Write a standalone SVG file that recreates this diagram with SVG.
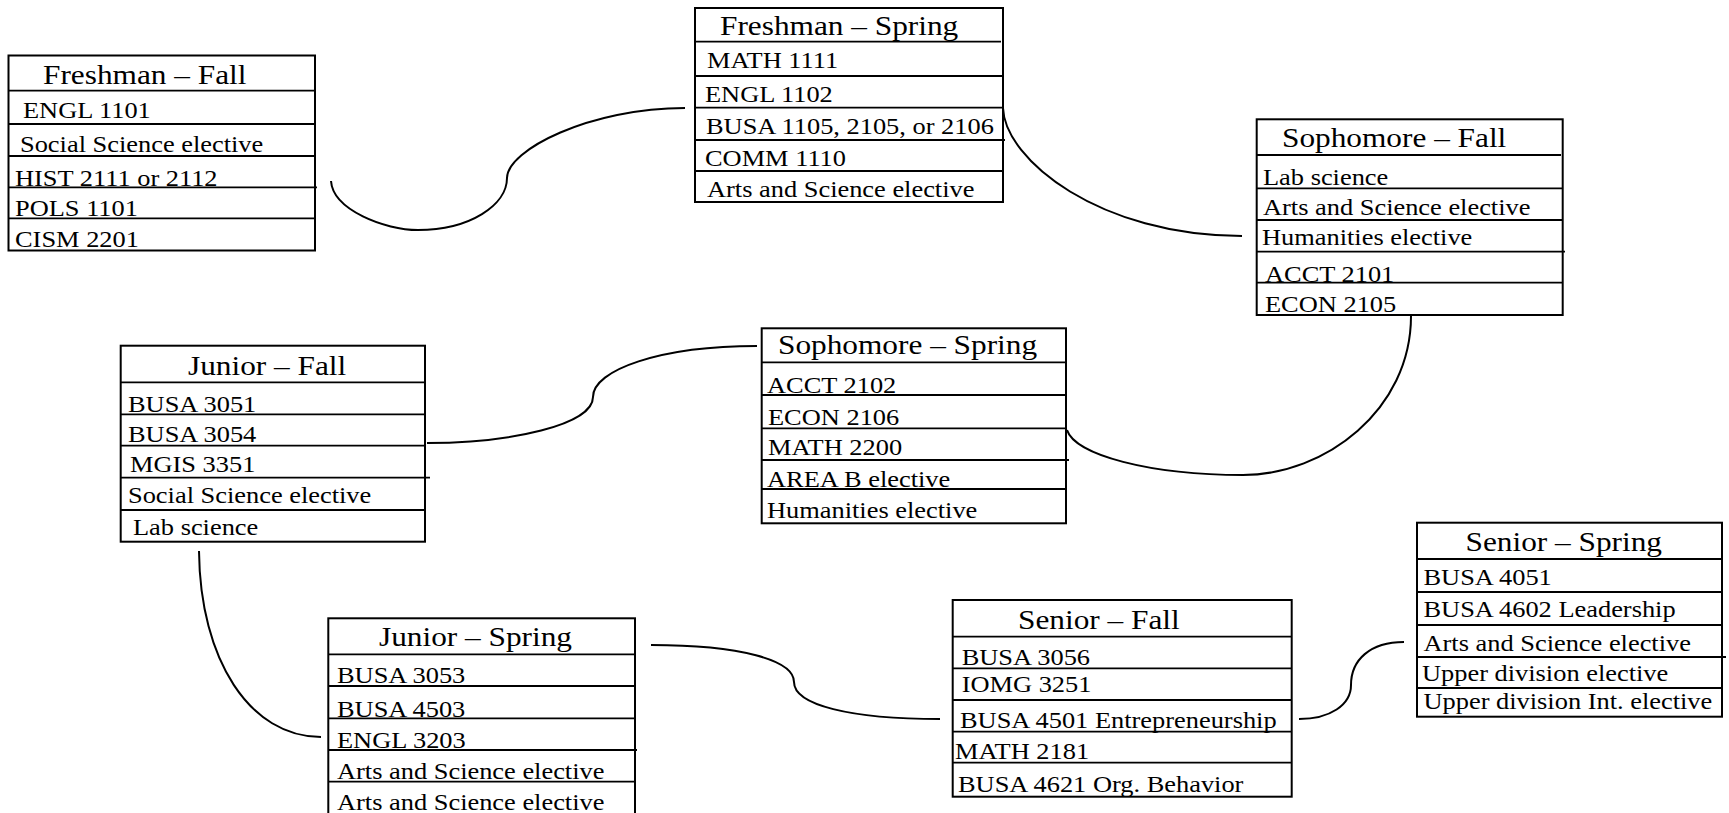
<svg xmlns="http://www.w3.org/2000/svg" width="1729" height="813" viewBox="0 0 1729 813">
<style>
.box{fill:#fff;stroke:#000;stroke-width:2}
.ln{stroke:#000;stroke-width:1.8;fill:none}
.t{font-family:"Liberation Serif","Times New Roman",serif;font-size:27px;fill:#000}
.r{font-family:"Liberation Serif","Times New Roman",serif;font-size:24px;fill:#000}
.c{fill:none;stroke:#000;stroke-width:2}
</style>
<rect width="1729" height="813" fill="#fff"/>
<g id="connectors">
<path class="c" d="M331,181 C333,210 385,230 418,230 C470,230 507,205 507,178 C507,150 590,108 685,108"/>
<path class="c" d="M1003,108 C1005,160 1100,236 1242,236"/>
<path class="c" d="M1411,316 C1411,410 1325,475 1243,475 C1150,475 1075,455 1067,430"/>
<path class="c" d="M427,443 C510,443 593,425 593,397 C593,370 660,346 757,346"/>
<path class="c" d="M199,551 C200,660 250,737 321,737"/>
<path class="c" d="M651,645 C740,645 794,660 794,682 C794,705 850,719 940,719"/>
<path class="c" d="M1299,719 C1330,719 1351,705 1351,685 C1351,660 1370,642 1404,642"/>
</g>
<g id="freshman-fall">
<rect class="box" x="8.5" y="55.5" width="306.5" height="195"/>
<path class="ln" d="M8.5,90.7H315M8.5,124H315M8.5,156H315M8.5,187.3H317M8.5,218.3H315"/>
<text class="t" transform="matrix(1.16,0,0,1,43,84)">Freshman – Fall</text>
<text class="r" transform="matrix(1.1,0,0,1,23,118)">ENGL 1101</text>
<text class="r" transform="matrix(1.1,0,0,1,20,151.5)">Social Science elective</text>
<text class="r" transform="matrix(1.1,0,0,1,15,186)">HIST 2111 or 2112</text>
<text class="r" transform="matrix(1.1,0,0,1,15,216)">POLS 1101</text>
<text class="r" transform="matrix(1.1,0,0,1,15,247)">CISM 2201</text>
</g>
<g id="freshman-spring">
<rect class="box" x="695" y="8" width="308" height="194"/>
<path class="ln" d="M695,41.7H1001M695,76H1003M695,107.7H1003M695,140H1005M695,171H1003"/>
<text class="t" transform="matrix(1.16,0,0,1,720,35)">Freshman – Spring</text>
<text class="r" transform="matrix(1.1,0,0,1,707,68)">MATH 1111</text>
<text class="r" transform="matrix(1.1,0,0,1,705,101.5)">ENGL 1102</text>
<text class="r" transform="matrix(1.1,0,0,1,706,133.5)">BUSA 1105, 2105, or 2106</text>
<text class="r" transform="matrix(1.1,0,0,1,705,166)">COMM 1110</text>
<text class="r" transform="matrix(1.1,0,0,1,707,196.5)">Arts and Science elective</text>
</g>
<g id="sophomore-fall">
<rect class="box" x="1256.7" y="119.3" width="306" height="195.7"/>
<path class="ln" d="M1256.7,155H1561M1256.7,188.3H1562.7M1256.7,220H1562.7M1256.7,251.7H1565M1256.7,282.7H1562.7"/>
<text class="t" transform="matrix(1.16,0,0,1,1282,146.7)">Sophomore – Fall</text>
<text class="r" transform="matrix(1.1,0,0,1,1263,185)">Lab science</text>
<text class="r" transform="matrix(1.1,0,0,1,1263,215)">Arts and Science elective</text>
<text class="r" transform="matrix(1.1,0,0,1,1262,245)">Humanities elective</text>
<text class="r" transform="matrix(1.1,0,0,1,1265,281.5)">ACCT 2101</text>
<text class="r" transform="matrix(1.1,0,0,1,1265,311.5)">ECON 2105</text>
</g>
<g id="sophomore-spring">
<rect class="box" x="761.7" y="328.3" width="304.3" height="195"/>
<path class="ln" d="M761.7,362.3H1066M761.7,395H1066M761.7,428.3H1066M761.7,460H1069M761.7,489H1066"/>
<text class="t" transform="matrix(1.16,0,0,1,778,354)">Sophomore – Spring</text>
<text class="r" transform="matrix(1.1,0,0,1,767,393.3)">ACCT 2102</text>
<text class="r" transform="matrix(1.1,0,0,1,768,425)">ECON 2106</text>
<text class="r" transform="matrix(1.1,0,0,1,768,455)">MATH 2200</text>
<text class="r" transform="matrix(1.1,0,0,1,767,486.7)">AREA B elective</text>
<text class="r" transform="matrix(1.1,0,0,1,767,518.3)">Humanities elective</text>
</g>
<g id="junior-fall">
<rect class="box" x="120.7" y="345.7" width="304.3" height="196"/>
<path class="ln" d="M120.7,382.3H425M120.7,414.3H425M120.7,445.7H425M120.7,477.7H430M120.7,510H425"/>
<text class="t" transform="matrix(1.16,0,0,1,188,375)">Junior – Fall</text>
<text class="r" transform="matrix(1.1,0,0,1,128,411.7)">BUSA 3051</text>
<text class="r" transform="matrix(1.1,0,0,1,128,441.7)">BUSA 3054</text>
<text class="r" transform="matrix(1.1,0,0,1,130,471.7)">MGIS 3351</text>
<text class="r" transform="matrix(1.1,0,0,1,128,503.3)">Social Science elective</text>
<text class="r" transform="matrix(1.1,0,0,1,133,535)">Lab science</text>
</g>
<g id="junior-spring">
<rect class="box" x="328.3" y="618.3" width="306.7" height="205"/>
<path class="ln" d="M328.3,654.3H635M328.3,686H635M328.3,718.3H635M328.3,750H637M328.3,781.7H635"/>
<text class="t" transform="matrix(1.16,0,0,1,379,646)">Junior – Spring</text>
<text class="r" transform="matrix(1.1,0,0,1,337,683.3)">BUSA 3053</text>
<text class="r" transform="matrix(1.1,0,0,1,337,716.7)">BUSA 4503</text>
<text class="r" transform="matrix(1.1,0,0,1,337,747.7)">ENGL 3203</text>
<text class="r" transform="matrix(1.1,0,0,1,337,779)">Arts and Science elective</text>
<text class="r" transform="matrix(1.1,0,0,1,337,810)">Arts and Science elective</text>
</g>
<g id="senior-fall">
<rect class="box" x="952.7" y="600" width="339" height="196.7"/>
<path class="ln" d="M952.7,636.7H1291.7M952.7,668.3H1291.7M952.7,700H1291.7M952.7,731.7H1291.7M952.7,762.7H1291.7"/>
<text class="t" transform="matrix(1.16,0,0,1,1018,629.3)">Senior – Fall</text>
<text class="r" transform="matrix(1.1,0,0,1,961.7,665)">BUSA 3056</text>
<text class="r" transform="matrix(1.1,0,0,1,961.7,691.7)">IOMG 3251</text>
<text class="r" transform="matrix(1.1,0,0,1,960,728.3)">BUSA 4501 Entrepreneurship</text>
<text class="r" transform="matrix(1.1,0,0,1,955,759.3)">MATH 2181</text>
<text class="r" transform="matrix(1.1,0,0,1,958,791.7)">BUSA 4621 Org. Behavior</text>
</g>
<g id="senior-spring">
<rect class="box" x="1417" y="522.7" width="305" height="194"/>
<path class="ln" d="M1417,559H1722M1417,592H1722M1417,625H1722M1417,657H1726M1417,688H1722"/>
<text class="t" transform="matrix(1.16,0,0,1,1465.5,551)">Senior – Spring</text>
<text class="r" transform="matrix(1.1,0,0,1,1423.5,585)">BUSA 4051</text>
<text class="r" transform="matrix(1.1,0,0,1,1423.5,617)">BUSA 4602 Leadership</text>
<text class="r" transform="matrix(1.1,0,0,1,1423.5,651)">Arts and Science elective</text>
<text class="r" transform="matrix(1.1,0,0,1,1422,681)">Upper division elective</text>
<text class="r" transform="matrix(1.1,0,0,1,1423.5,709)">Upper division Int. elective</text>
</g>
</svg>
